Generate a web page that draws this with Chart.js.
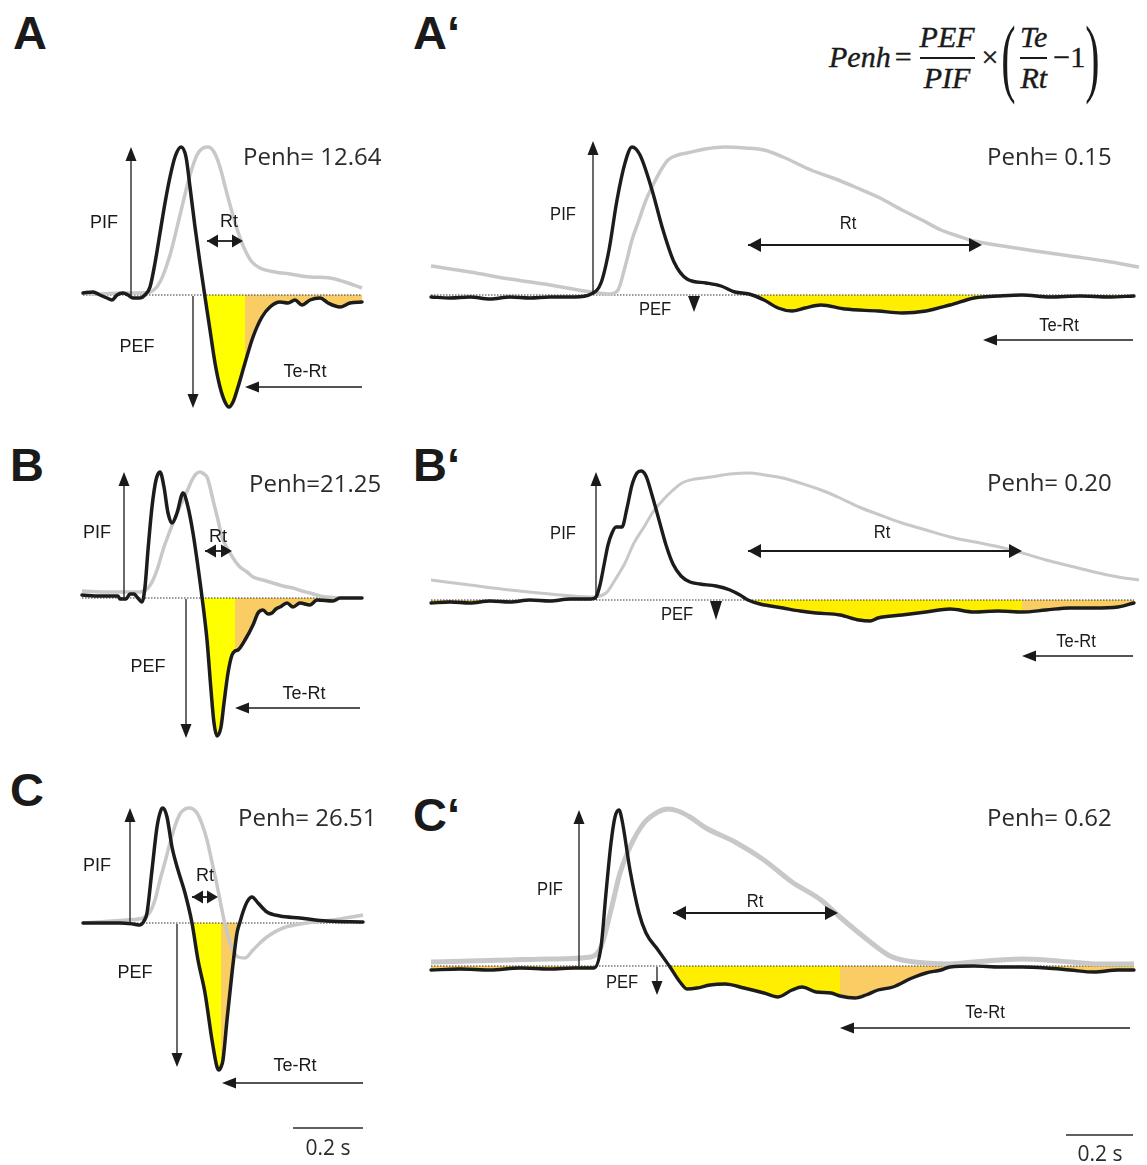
<!DOCTYPE html>
<html>
<head>
<meta charset="utf-8">
<title>Penh traces</title>
<script src="https://cdn.jsdelivr.net/npm/chart.js"></script>
<style>
  body {
    margin: 0;
    background: #fff;
    width: 1147px;
    height: 1165px;
    position: relative;
    overflow: hidden;
    font-family: 'Liberation Sans', Arial, sans-serif;
  }
  canvas { position: absolute; }
  .tag {
    position: absolute;
    font: bold 47px 'Liberation Sans', Arial, sans-serif;
    color: #1a1a1a;
    line-height: 1;
  }
  /* formula top right */
  .formula {
    position: absolute;
    left: 829px;
    top: 14px;
    display: flex;
    align-items: center;
    font: italic 30px 'Liberation Serif', 'Times New Roman', serif;
    color: #1a1a1a;
    -webkit-text-stroke: 0.4px #1a1a1a;
  }
  .frac { display: inline-flex; flex-direction: column; align-items: center; margin: 0 4px; line-height: 1.05; }
  .frac .bar { height: 1.5px; background: #1a1a1a; align-self: stretch; margin: 5px 0 3px; }
  .up { font-style: normal; }
  .paren { font-style: normal; font-size: 86px; transform: scaleX(0.5); line-height: 1; margin: 0 -7px; -webkit-text-stroke: 0; }
</style>
</head>
<body>

<div class="tag" style="left:13px;top:9px">A</div>
<div class="tag" style="left:413px;top:9px">A‘</div>
<div class="tag" style="left:10px;top:441px">B</div>
<div class="tag" style="left:413px;top:441px">B‘</div>
<div class="tag" style="left:10px;top:766px">C</div>
<div class="tag" style="left:413px;top:791px">C‘</div>

<div class="formula">
  <span>Penh</span><span class="up" style="margin:0 4px">=</span>
  <span class="frac"><span>PEF</span><span class="bar"></span><span>PIF</span></span>
  <span class="up" style="margin:0 3px">×</span>
  <span class="paren">(</span>
  <span class="frac"><span>Te</span><span class="bar"></span><span>Rt</span></span>
  <span class="up" style="margin-left:2px">−1</span>
  <span class="paren">)</span>
</div>

<canvas id="pA"></canvas>
<canvas id="pA2"></canvas>
<canvas id="pB"></canvas>
<canvas id="pB2"></canvas>
<canvas id="pC"></canvas>
<canvas id="pC2"></canvas>

<script>
// time in samples (1 sample ~ 2.9 ms), flow in arbitrary units, 0 = no flow

// A (control)
const aBlackT = [3,13,20,27,32,37,43,48,53,60,65,70,75,80,85,90,95,101,106,110,115,120,125,130,135,140,145,149,153,158,165,173,182,190,200,208,215,222,230,240,248,260,270,282];
const aBlackF = [2,3,0,-3,-5,0,2,0,-3,-3,0,8,32,62,92,118,138,148,138,108,68,32,-2,-35,-68,-92,-107,-112,-107,-92,-68,-42,-22,-12,-7,-8,-5,-10,-5,-3,-8,-12,-8,-7];
const aGrayT = [3,20,40,60,70,80,90,100,110,117,123,128,134,140,146,152,158,165,172,180,195,210,230,250,265,282];
const aGrayF = [2,1,2,2,3,13,40,80,120,140,147,148,143,128,105,83,63,45,33,27,23,21,18,17,13,7];

// A'
const a2BlackT = [6,25,45,65,85,105,125,150,166,176,184,192,200,207,215,227,238,249,262,281,296,310,324,339,353,367,380,396,420,453,477,501,525,549,558,573,597,625,655,685,709];
const a2BlackF = [-2,-3,-2,-4,-2,-3,-2,-2,1,12,45,95,132,148,140,105,65,33,16,12,9,3,1,-5,-13,-16,-13,-10,-14,-16,-18,-16,-10,-3,-2,-1,0,-2,-1,-2,-1];
const a2GrayT = [6,45,85,125,166,185,193,200,207,214,221,229,236,243,253,262,280,300,320,339,358,386,408,430,455,477,497,516,533,549,578,610,645,680,714];
const a2GrayF = [29,23,16,10,3,1,5,28,55,75,95,112,125,135,140,142,146,148,147,145,138,125,117,108,97,85,75,65,59,54,49,44,39,34,28];

// B
const bBlackT = [2,20,38,40,46,50,54,57,62,65,68,72,76,80,84,88,92,97,103,108,113,118,122,127,131,134,137,141,144,148,152,155,158,165,173,178,183,188,192,196,200,207,213,220,230,237,253,260,282];
const bBlackF = [3,2,2,-1,-1,4,4,1,-4,11,48,91,118,126,111,85,75,85,105,91,65,31,1,-42,-92,-125,-138,-129,-105,-75,-57,-53,-52,-42,-27,-15,-12,-16,-15,-11,-9,-5,-9,-5,-7,-2,-3,0,0];
const bGrayT = [2,30,60,68,73,78,83,88,93,98,103,108,112,116,120,124,127,130,133,138,142,146,150,155,160,167,173,183,193,203,213,222,230,240,247,260];
const bGrayF = [7,6,6,10,18,31,48,62,75,87,98,109,118,124,126,124,121,111,98,78,61,52,45,37,31,26,21,18,15,12,10,7,5,2,1,0];

// B'
const b2BlackT = [6,25,45,65,85,105,125,145,166,171,175,179,183,187,191,197,202,207,212,216,221,227,234,241,248,256,265,275,291,305,315,323,335,358,375,391,415,434,445,453,477,501,525,549,573,597,621,645,669,693,709];
const b2BlackF = [-3,-2,-3,-1,-2,0,-1,1,1,3,15,35,55,67,73,73,92,115,127,129,124,105,80,55,36,24,18,16,14,10,5,0,-4,-8,-11,-13,-15,-20,-21,-18,-15,-12,-9,-12,-11,-12,-10,-8,-8,-7,-3];
const b2GrayT = [6,45,85,125,166,181,190,200,209,219,228,238,247,257,270,286,305,324,340,358,375,396,415,434,455,477,501,525,555,587,621,645,669,693,714];
const b2GrayF = [20,15,10,6,3,7,20,37,57,73,88,100,109,117,121,123,126,127,125,122,117,110,102,93,85,77,70,63,57,50,40,34,28,23,20];

// C
const cBlackT = [3,20,40,53,60,64,67,72,77,81,83,87,92,98,105,112,118,125,132,137,139,141,143,147,152,157,160,163,167,172,178,187,200,220,247,283];
const cBlackF = [0,0,0,-1,-2,2,10,53,96,113,115,106,76,53,30,0,-37,-70,-117,-144,-147,-144,-137,-97,-50,-10,1,11,21,26,20,11,7,5,2,1];
const cGrayT = [3,47,63,70,75,80,85,90,95,100,105,109,113,117,122,127,133,137,140,144,147,150,154,158,165,173,180,187,203,227,253,283];
const cGrayF = [0,3,5,11,23,43,61,80,97,109,114,115,114,110,99,83,56,38,23,3,-9,-19,-29,-34,-35,-27,-20,-14,-5,0,3,8];

// C'
const c2BlackT = [6,35,65,95,125,150,169,176,181,186,190,194,197,205,214,221,233,245,255,262,272,285,300,319,339,353,367,377,391,406,415,430,441,453,468,487,501,516,525,549,575,597,621,645,669,693,709];
const c2BlackF = [-4,-3,-4,-2,-3,-2,-2,19,73,123,149,156,146,96,53,33,16,-1,-16,-23,-22,-19,-18,-22,-27,-31,-24,-21,-26,-27,-30,-32,-29,-24,-21,-12,-7,-4,-1,0,-1,-1,-2,-4,-6,-4,-4];
const c2GrayT = [6,45,85,125,166,176,186,195,205,219,233,243,253,265,281,310,339,367,396,415,434,453,465,477,501,525,549,575,597,621,645,675,709];
const c2GrayF = [4,5,6,7,9,19,56,93,119,143,154,157,155,149,138,124,106,84,66,49,33,18,10,6,3,2,4,6,7,6,4,2,2];

const penhValues = ['Penh= 12.64', 'Penh= 0.15', 'Penh=21.25', 'Penh= 0.20', 'Penh= 26.51', 'Penh= 0.62'];

const YEL = '#ffff00';
const YEL2 = '#ffee00';
const ORA = '#f9cd63';

const panels = [
  { id: 'pA', left: 80, top: 130, w: 320, h: 290, yMax: 165, bT: aBlackT, bF: aBlackF, gT: aGrayT, gF: aGrayF,
    fills: [[125, 165, YEL], [165, 282, ORA]], base: [3, 282], penh: penhValues[0], penhAt: [163, 137], sx: 1, lw: 3.5, gw: 3.5,
    arrows: [[51, 0, 51, 148], [113, -1, 113, -113], [127, 54, 163, 54, 1], [282, -92, 165, -92]],
    labels: [['PIF', 24, 72], ['PEF', 57, -52], ['Rt', 149, 73], ['Te-Rt', 225, -77]] },
  { id: 'pA2', left: 425, top: 130, w: 715, h: 230, yMax: 165, bT: a2BlackT, bF: a2BlackF, gT: a2GrayT, gF: a2GrayF,
    fills: [[324, 558, YEL2], [558, 709, ORA]], base: [6, 709], penh: penhValues[1], penhAt: [562, 137], sx: 0.92, lw: 3.4, gw: 3.5,
    arrows: [[168, 0, 168, 154], [269, -1, 269, -17], [323, 50, 557, 50, 1], [708, -45, 558, -45]],
    labels: [['PIF', 138, 80], ['PEF', 230, -15], ['Rt', 423, 71], ['Te-Rt', 634, -31]] },
  { id: 'pB', left: 80, top: 455, w: 320, h: 295, yMax: 143, bT: bBlackT, bF: bBlackF, gT: bGrayT, gF: bGrayF,
    fills: [[122, 155, YEL], [155, 282, ORA]], base: [2, 282], penh: penhValues[2], penhAt: [169, 113], sx: 1, lw: 3.5, gw: 3.5,
    arrows: [[44, 0, 44, 126], [106, -1, 106, -140], [125, 47, 152, 47, 1], [280, -110, 155, -110]],
    labels: [['PIF', 17, 65], ['PEF', 68, -69], ['Rt', 138, 61], ['Te-Rt', 224, -96]] },
  { id: 'pB2', left: 425, top: 455, w: 715, h: 220, yMax: 145, bT: b2BlackT, bF: b2BlackF, gT: b2GrayT, gF: b2GrayF,
    fills: [[6, 166, ORA], [323, 597, YEL2], [597, 709, ORA]], base: [6, 709], penh: penhValues[3], penhAt: [562, 116], sx: 0.92, lw: 3.4, gw: 3,
    arrows: [[171, 0, 171, 128], [291, -1, 291, -20], [323, 49, 597, 49, 1], [708, -56, 597, -56]],
    labels: [['PIF', 138, 66], ['PEF', 252, -15], ['Rt', 457, 67], ['Te-Rt', 651, -42]] },
  { id: 'pC', left: 80, top: 790, w: 320, h: 375, yMax: 133, bT: cBlackT, bF: cBlackF, gT: cGrayT, gF: cGrayF,
    fills: [[112, 141, YEL], [141, 160, ORA]], base: [3, 283], penh: penhValues[4], penhAt: [158, 104], sx: 1, lw: 3.5, gw: 3.5,
    arrows: [[50, 0, 50, 115], [97, -1, 97, -144], [112, 26, 138, 26, 1], [283, -160, 142, -160]],
    labels: [['PIF', 17, 57], ['PEF', 55, -50], ['Rt', 125, 47], ['Te-Rt', 215, -143]],
    bar: [213, 283, -205, 248, -226] },
  { id: 'pC2', left: 425, top: 790, w: 715, h: 375, yMax: 176, bT: c2BlackT, bF: c2BlackF, gT: c2GrayT, gF: c2GrayF,
    fills: [[6, 169, ORA], [245, 415, YEL2], [415, 709, ORA]], base: [6, 709], penh: penhValues[5], penhAt: [562, 147], sx: 0.92, lw: 3.4, gw: 5,
    arrows: [[154, 0, 154, 156], [232, -1, 232, -29], [248, 53, 413, 53, 1], [705, -62, 415, -62]],
    labels: [['PIF', 125, 76], ['PEF', 197, -17], ['Rt', 330, 64], ['Te-Rt', 560, -47]],
    bar: [641, 708, -169, 675, -189] }
];

function head(ctx, x, y, ang, len, half) {
  ctx.beginPath();
  ctx.moveTo(x, y);
  ctx.lineTo(x - len * Math.cos(ang) + half * Math.sin(ang), y - len * Math.sin(ang) - half * Math.cos(ang));
  ctx.lineTo(x - len * Math.cos(ang) - half * Math.sin(ang), y - len * Math.sin(ang) + half * Math.cos(ang));
  ctx.closePath();
  ctx.fill();
}

function marksPlugin(p) {
  return {
    id: 'marks',
    afterDatasetsDraw(chart) {
      const ctx = chart.ctx;
      const X = v => chart.scales.x.getPixelForValue(v);
      const Y = v => chart.scales.y.getPixelForValue(v);
      ctx.save();
      ctx.strokeStyle = '#1a1a1a';
      ctx.fillStyle = '#1a1a1a';
      p.arrows.forEach(a => {
        const x1 = X(a[0]), y1 = Y(a[1]), x2 = X(a[2]), y2 = Y(a[3]);
        const both = a[4];
        const ang = Math.atan2(y2 - y1, x2 - x1);
        const d = Math.hypot(x2 - x1, y2 - y1);
        let len, half;
        const tiny = !both && d < 22;
        if (both) { len = d < 60 ? 11 : 13; half = d < 60 ? 6.5 : 7; }
        else if (tiny) { len = d; half = 6; }
        else { len = 14; half = 5.5; }
        ctx.lineWidth = both ? 1.8 : 1.3;
        if (!tiny) {
          ctx.beginPath();
          ctx.moveTo(x1, y1);
          ctx.lineTo(x2 - Math.cos(ang) * (len - 2), y2 - Math.sin(ang) * (len - 2));
          ctx.stroke();
        }
        head(ctx, x2, y2, ang, len, half);
        if (both) head(ctx, x1, y1, ang + Math.PI, len, half);
      });

      ctx.textAlign = 'center';
      ctx.textBaseline = 'middle';
      ctx.font = '18px "Liberation Sans", Arial, sans-serif';
      p.labels.forEach(l => {
        ctx.save();
        ctx.translate(X(l[1]), Y(l[2]));
        ctx.scale(p.sx, 1);
        ctx.fillText(l[0], 0, 0);
        ctx.restore();
      });

      ctx.fillStyle = '#2b2b2b';
      ctx.textAlign = 'left';
      ctx.font = '24px "Open Sans", sans-serif';
      ctx.fillText(p.penh, X(p.penhAt[0]), Y(p.penhAt[1]));

      if (p.bar) {
        const b = p.bar;
        ctx.strokeStyle = '#2b2b2b';
        ctx.lineWidth = 1.5;
        ctx.beginPath();
        ctx.moveTo(X(b[0]), Y(b[2]));
        ctx.lineTo(X(b[1]), Y(b[2]));
        ctx.stroke();
        ctx.textAlign = 'center';
        ctx.font = '21px "Open Sans", sans-serif';
        ctx.fillText('0.2 s', X(b[3]), Y(b[4]));
      }
      ctx.restore();
    }
  };
}

panels.forEach(p => {
  const cv = document.getElementById(p.id);
  cv.width = p.w;
  cv.height = p.h;
  cv.style.left = p.left + 'px';
  cv.style.top = p.top + 'px';

  const black = p.bT.map((t, i) => ({ x: t, y: p.bF[i] }));
  const gray = p.gT.map((t, i) => ({ x: t, y: p.gF[i] }));

  const fillSets = p.fills.map(f => ({
    data: black.filter(pt => pt.x >= f[0] && pt.x <= f[1]),
    borderColor: 'rgba(0,0,0,0)',
    borderWidth: 0,
    pointRadius: 0,
    cubicInterpolationMode: 'monotone',
    fill: { target: { value: 0 }, above: 'rgba(0,0,0,0)', below: f[2] }
  }));

  new Chart(cv, {
    type: 'line',
    data: {
      datasets: [
        { data: black, borderColor: '#1c1c1c', borderWidth: p.lw, pointRadius: 0, cubicInterpolationMode: 'monotone', fill: false, borderJoinStyle: 'round', borderCapStyle: 'round' },
        { data: gray, borderColor: '#c8c8c8', borderWidth: p.gw, pointRadius: 0, cubicInterpolationMode: 'monotone', fill: false },
        { data: [{ x: p.base[0], y: 0 }, { x: p.base[1], y: 0 }], borderColor: '#333', borderWidth: 1, borderDash: [1.5, 1.5], pointRadius: 0, fill: false },
        ...fillSets
      ]
    },
    options: {
      responsive: false,
      animation: false,
      events: [],
      layout: { padding: 0 },
      scales: {
        x: { type: 'linear', display: false, min: 0, max: p.w },
        y: { type: 'linear', display: false, min: p.yMax - p.h, max: p.yMax }
      },
      plugins: { legend: { display: false }, tooltip: { enabled: false } }
    },
    plugins: [marksPlugin(p)]
  });
});
</script>
</body>
</html>
